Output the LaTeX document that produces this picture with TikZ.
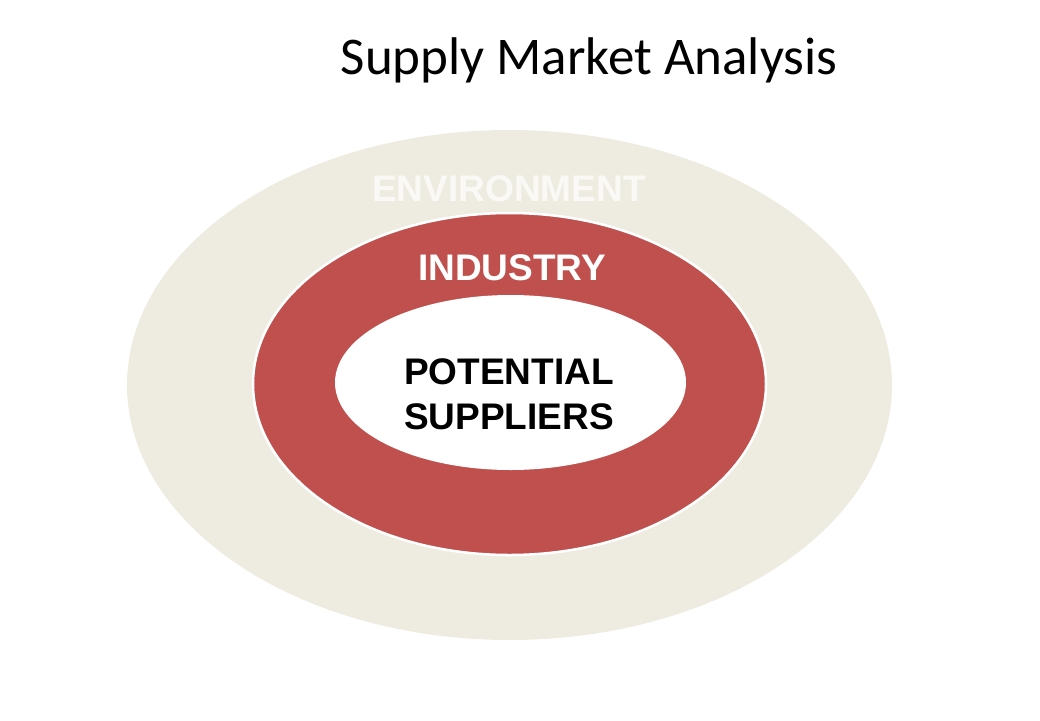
\documentclass[tikz,border=0pt]{standalone}
\usepackage{fontspec}
\usetikzlibrary{shapes.geometric}
\newfontfamily\titlefont{Carlito}
\newfontfamily\ringfont{Liberation Sans}
\definecolor{envbeige}{HTML}{EEECE1}
\definecolor{envtext}{HTML}{FAF9F6}
\definecolor{indred}{HTML}{C0504D}

\begin{document}
\begin{tikzpicture}[x=1pt,y=-1pt]
            \tikzset{
                ring/.style={ellipse,inner sep=0pt},
                ringlabel/.style={font=\ringfont\bfseries\fontsize{37}{45}\selectfont,anchor=base,align=center},}
            \useasboundingbox (0,0) rectangle (1040,720);
            \node (title) at (589,74) [anchor=base,font=\titlefont\fontsize{53}{60}\selectfont] {Supply Market Analysis};
            \node [ring,fill=envbeige,minimum width=765,minimum height=510] (environment) at (509.5,385) {};
            \node [ring,fill=indred,draw=white,line width=2.5pt,minimum width=513,minimum height=342] (industry) at (509.5,384) {};
            \node [ring,fill=white,minimum width=351,minimum height=175] (suppliers) at (510.5,382.5) {};
            \node [ringlabel,text=envtext] (envlabel) at (509,201.5) {ENVIRONMENT};
            \node [ringlabel,text=white] (indlabel) at (512,280) {INDUSTRY};
            \node [ringlabel,text=black,anchor=center] (suplabel) at (509,394) {POTENTIAL\\SUPPLIERS};
        \end{tikzpicture}
\end{document}
